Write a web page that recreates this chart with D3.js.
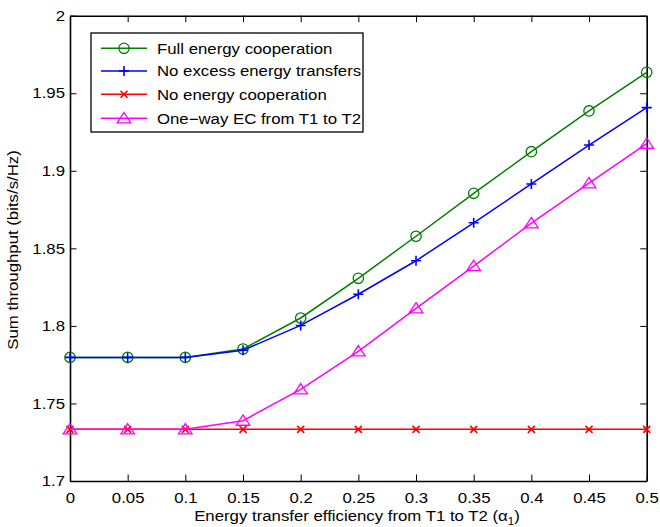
<!DOCTYPE html>
<html><head><meta charset="utf-8">
<script src="https://cdn.jsdelivr.net/npm/d3@7"></script>
<style>body{margin:0;background:#fff}svg{display:block}text{font-family:"Liberation Sans",Arial,Helvetica,sans-serif}</style>
</head><body>
<script>
const alpha = [0,0.05,0.1,0.15,0.2,0.25,0.3,0.35,0.4,0.45,0.5];
const fullEC = [1.7797,1.7797,1.7797,1.7851,1.8051,1.8307,1.8578,1.8855,1.9123,1.9386,1.9635];
const noExcess = [1.7797,1.7797,1.7797,1.7843,1.8003,1.8204,1.8420,1.8665,1.8915,1.9166,1.9407];
const noEC = [1.7333,1.7333,1.7333,1.7333,1.7333,1.7333,1.7333,1.7333,1.7333,1.7333,1.7333];
const oneWay = [1.7333,1.7333,1.7333,1.7389,1.7591,1.7836,1.8113,1.8386,1.8662,1.8920,1.9175];
const xTicks = [0,0.05,0.1,0.15,0.2,0.25,0.3,0.35,0.4,0.45,0.5];
const yTicks = [1.7,1.75,1.8,1.85,1.9,1.95,2];
const seriesNames = ["Full energy cooperation","No excess energy transfers","No energy cooperation","One\u2212way EC from T1 to T2"];

const series = [
  {name: seriesNames[0], values: fullEC, color: "#007f00", marker: "circle"},
  {name: seriesNames[1], values: noExcess, color: "#0000ff", marker: "plus"},
  {name: seriesNames[2], values: noEC, color: "#ff0000", marker: "x"},
  {name: seriesNames[3], values: oneWay, color: "#ff00ff", marker: "triangle"}
];
const drawOrder = [2,3,0,1];

const W = 660, H = 527;
const L = 70, R = 646.7, T = 15.7, B = 481;
const SX = 1.15, FS = "14.6px";
const svg = d3.select("body").append("svg").attr("width", W).attr("height", H);
const x = d3.scaleLinear().domain([0,0.5]).range([L,R]);
const y = d3.scaleLinear().domain([1.7,2]).range([B,T]);

const fmt = d => String(+d.toFixed(2));
const tl = 6.5;
const ax = svg.append("g").attr("transform",`translate(0,${B})`)
  .call(d3.axisBottom(x).tickValues(xTicks).tickFormat(fmt).tickSizeInner(-tl).tickSizeOuter(0).tickPadding(12));
const axT = svg.append("g").attr("transform",`translate(0,${T})`)
  .call(d3.axisTop(x).tickValues(xTicks).tickFormat("").tickSizeInner(-tl).tickSizeOuter(0));
const ay = svg.append("g").attr("transform",`translate(${L},0)`)
  .call(d3.axisLeft(y).tickValues(yTicks).tickFormat(fmt).tickSizeInner(-tl).tickSizeOuter(0).tickPadding(5));
const ayR = svg.append("g").attr("transform",`translate(${R},0)`)
  .call(d3.axisRight(y).tickValues(yTicks).tickFormat("").tickSizeInner(-tl).tickSizeOuter(0));
[ax,axT,ay,ayR].forEach(g=>{
  g.selectAll("path").attr("stroke","#000").attr("stroke-width",1.6);
  g.selectAll("line").attr("stroke","#000").attr("stroke-width",1);
  g.selectAll("text").attr("fill","#000").style("font-size",FS);
});

function marker(g, type, cx, cy, color){
  if(type==="circle"){
    g.append("circle").attr("cx",cx).attr("cy",cy).attr("r",5.2).attr("fill","none").attr("stroke",color).attr("stroke-width",1.3);
  } else if(type==="plus"){
    const s=5;
    g.append("path").attr("d",`M${cx-s},${cy}H${cx+s}M${cx},${cy-s}V${cy+s}`).attr("stroke",color).attr("stroke-width",1.6).attr("fill","none");
  } else if(type==="x"){
    const s=3.5;
    g.append("path").attr("d",`M${cx-s},${cy-s}L${cx+s},${cy+s}M${cx-s},${cy+s}L${cx+s},${cy-s}`).attr("stroke",color).attr("stroke-width",1.6).attr("fill","none");
  } else if(type==="triangle"){
    g.append("path").attr("d",`M${cx},${cy-5.8}L${cx+6.8},${cy+4.6}L${cx-6.8},${cy+4.6}Z`).attr("stroke",color).attr("stroke-width",1.3).attr("fill","none");
  }
}

const line = d3.line().x((d,i)=>x(alpha[i])).y(d=>y(d));
const plot = svg.append("g");
drawOrder.forEach(k=>{
  const s = series[k];
  plot.append("path").datum(s.values).attr("d",line).attr("fill","none").attr("stroke",s.color).attr("stroke-width",1.5);
  s.values.forEach((v,i)=>marker(plot,s.marker,x(alpha[i]),y(v),s.color));
});

// legend
const lg = svg.append("g");
lg.append("rect").attr("x",91).attr("y",33).attr("width",272).attr("height",99).attr("fill","#fff").attr("stroke","#000").attr("stroke-width",1.3);
const rowsY = [48.3,71,94.3,118.3];
series.forEach((s,i)=>{
  const yy = rowsY[i];
  lg.append("line").attr("x1",101).attr("x2",147).attr("y1",yy).attr("y2",yy).attr("stroke",s.color).attr("stroke-width",1.5);
  marker(lg,s.marker,124,yy,s.color);
  lg.append("text").attr("x",157).attr("y",yy).attr("dy","0.36em").style("font-size",FS).attr("fill","#000").text(s.name);
});

// axis labels
const xl = svg.append("text").attr("x",357).attr("y",521).attr("text-anchor","middle").style("font-size",FS).attr("fill","#000");
xl.append("tspan").text("Energy transfer efficiency from T1 to T2 (");
xl.append("tspan").text("\u03b1");
xl.append("tspan").attr("dy",4).style("font-size","10px").text("1");
xl.append("tspan").attr("dy",-4).text(")");

// horizontal stretch of text to match reference glyph widths
svg.selectAll("text").each(function(){
  const px = +(this.getAttribute("x")||0);
  const prev = this.getAttribute("transform")||"";
  this.setAttribute("transform", `${prev} translate(${px},0) scale(${SX},1) translate(${-px},0)`);
});
svg.append("text").attr("transform",`translate(18,${250}) rotate(-90) scale(${SX},1)`).attr("text-anchor","middle").style("font-size",FS).attr("fill","#000").text("Sum throughput (bits/s/Hz)");
</script>
</body></html>
